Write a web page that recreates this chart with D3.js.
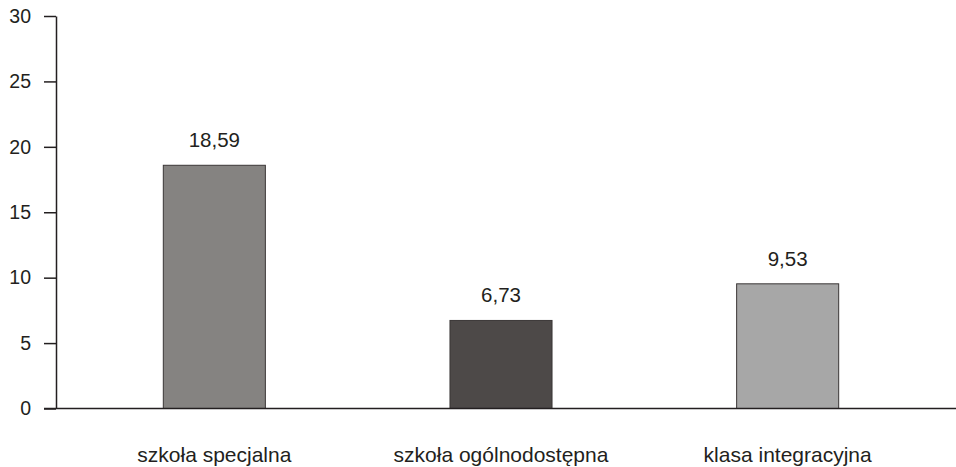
<!DOCTYPE html>
<html>
<head>
<meta charset="utf-8">
<script src="https://cdn.jsdelivr.net/npm/d3@7"></script>
<style>
  html, body { margin: 0; padding: 0; background: #fff; }
  svg { display: block; font-family: Arial, "Liberation Sans", sans-serif; }
</style>
</head>
<body>
<svg id="chart" width="956" height="467"></svg>
<script>
// Chart data
const categories = ["szkoła specjalna", "szkoła ogólnodostępna", "klasa integracyjna"];
const values = [18.59, 6.73, 9.53];
const barColors = ["#858381", "#4d4948", "#a7a7a7"];
const yTicks = [0, 5, 10, 15, 20, 25, 30];

const svg = d3.select("#chart");
const axisX = 56, y0 = 408.5, yTop = 16;

const y = d3.scaleLinear().domain([0, 30]).range([y0, yTop]);
const x = d3.scaleBand()
  .domain(categories)
  .range([71, 931])
  .paddingInner(0.644)
  .paddingOuter(0.322);

const fmt = v => v.toFixed(2).replace(".", ",");

// Bars
svg.append("g").selectAll("rect")
  .data(values)
  .join("rect")
  .attr("x", (d, i) => x(categories[i]))
  .attr("y", d => y(d))
  .attr("width", x.bandwidth())
  .attr("height", d => y0 - y(d))
  .attr("fill", (d, i) => barColors[i])
  .attr("stroke", "#3a3636")
  .attr("stroke-width", 1);

// Value labels
svg.append("g").selectAll("text")
  .data(values)
  .join("text")
  .attr("x", (d, i) => x(categories[i]) + x.bandwidth() / 2)
  .attr("y", d => y(d) - 18)
  .attr("text-anchor", "middle")
  .attr("font-size", 20.5)
  .attr("fill", "#231f20")
  .text(d => fmt(d));

// Y axis
const yAxis = d3.axisLeft(y)
  .tickValues(yTicks)
  .tickSize(12)
  .tickPadding(13)
  .tickSizeOuter(0)
  .tickFormat(d3.format("d"));
const gy = svg.append("g")
  .attr("transform", `translate(${axisX},0)`)
  .call(yAxis);
gy.select(".domain").attr("stroke", "#231f20").attr("stroke-width", 1.5);
gy.selectAll(".tick line").attr("stroke", "#231f20").attr("stroke-width", 1.5);
gy.selectAll(".tick text")
  .attr("font-size", 19.5)
  .attr("font-family", "Arial, 'Liberation Sans', sans-serif")
  .attr("fill", "#231f20");

// X axis baseline
const xAxis = d3.axisBottom(x).tickSize(0).tickPadding(39).tickSizeOuter(0);
const gx = svg.append("g")
  .attr("transform", `translate(0,${y0})`)
  .call(xAxis);
gx.select(".domain")
  .attr("d", `M44,0H956`)
  .attr("stroke", "#231f20")
  .attr("stroke-width", 1.5);
gx.selectAll(".tick text")
  .attr("font-size", 21)
  .attr("font-family", "Arial, 'Liberation Sans', sans-serif")
  .attr("fill", "#231f20");
</script>
</body>
</html>
